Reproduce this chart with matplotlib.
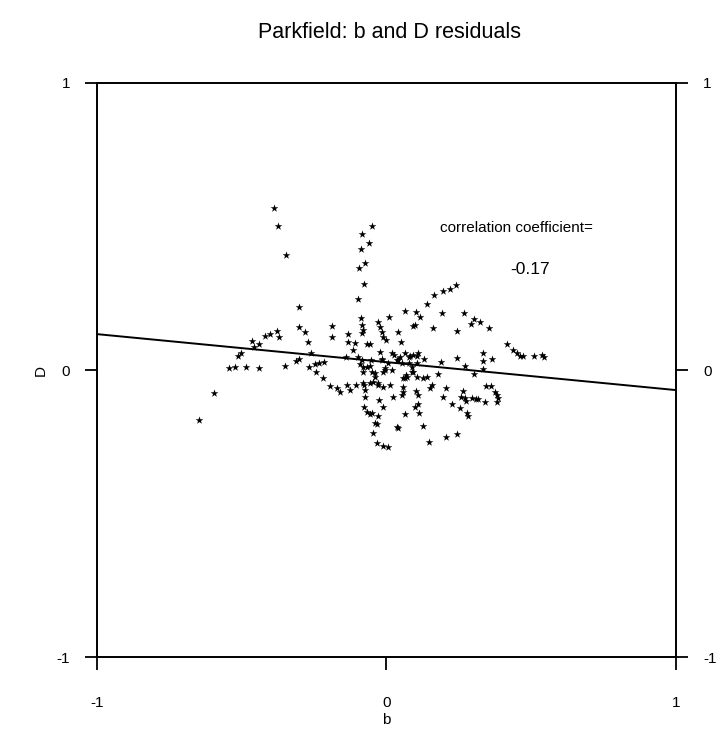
import numpy as np
import matplotlib
matplotlib.use("Agg")
import matplotlib.pyplot as plt

plt.rcParams['font.family'] = ['Liberation Sans', 'DejaVu Sans']

# residuals (b, D)
b_vals = [
    -0.389, -0.375, -0.347, -0.302, -0.302, -0.378, -0.371, -0.188, -0.282, -0.402,
    -0.420, -0.465, -0.440, -0.458, -0.271, -0.503, -0.513, -0.261, -0.544, -0.523,
    -0.485, -0.440, -0.351, -0.313, -0.302, -0.268, -0.247, -0.233, -0.216, -0.244,
    -0.219, -0.195, -0.171, -0.161, -0.136, -0.126, -0.105, -0.596, -0.648, -0.188,
    -0.133, -0.133, -0.109, -0.116, -0.140,
    # column near b = -0.08
    -0.050, -0.085, -0.060, -0.088, -0.074, -0.095, -0.078, -0.098, -0.088, -0.085,
    -0.081, -0.085, -0.067, -0.057, -0.098, -0.085, -0.092, -0.081, -0.067, -0.057,
    -0.081, -0.050, -0.040, -0.047, -0.029, -0.012, 0.012, -0.081, -0.074, -0.074,
    -0.078, -0.067, -0.057, -0.029, -0.033, -0.047, -0.033, -0.012, 0.005, -0.026,
    -0.012, 0.022, 0.036, 0.064, -0.078, -0.057,
    # middle
    -0.029, -0.022, -0.016, -0.012, -0.002, 0.009, 0.064, 0.102, 0.116, 0.098,
    0.040, 0.050, -0.022, 0.019, 0.026, -0.016, 0.005, -0.005, 0.019, 0.040,
    0.047, 0.064, 0.078, 0.092, -0.054, -0.016, -0.005, -0.012, 0.036, 0.054,
    0.078, 0.088, 0.092, 0.105, 0.126, 0.140, 0.067, 0.057, -0.040, -0.029,
    0.057, 0.054, 0.057, 0.064, 0.071, 0.088, 0.105, 0.109, 0.109, 0.098,
    0.102, 0.109, 0.112, -0.050, -0.040, 0.040, 0.126, 0.147, 0.081, 0.105,
    0.130,
    # right side
    0.240, 0.219, 0.195, 0.164, 0.140, 0.192, 0.268, 0.302, 0.292, 0.323,
    0.354, 0.092, 0.161, 0.244, 0.416, 0.437, 0.451, 0.461, 0.472, 0.509,
    0.537, 0.544, 0.244, 0.333, 0.333, 0.364, 0.188, 0.271, 0.333, 0.302,
    0.178, 0.157, 0.150, 0.206, 0.195, 0.264, 0.257, 0.271, 0.275, 0.295,
    0.309, 0.316, 0.340, 0.344, 0.361, 0.375, 0.382, 0.385, 0.382, 0.226,
    0.254, 0.278, 0.282, 0.244, 0.206,
]
d_vals = [
    0.564, 0.502, 0.401, 0.219, 0.150, 0.136, 0.115, 0.153, 0.132, 0.125,
    0.118, 0.101, 0.091, 0.080, 0.098, 0.059, 0.049, 0.059, 0.007, 0.010,
    0.010, 0.007, 0.014, 0.031, 0.038, 0.010, 0.021, 0.024, 0.028, -0.007,
    -0.028, -0.056, -0.063, -0.077, -0.052, -0.070, -0.052, -0.080, -0.174, 0.115,
    0.125, 0.098, 0.094, 0.070, 0.045,
    0.502, 0.474, 0.442, 0.422, 0.373, 0.355, 0.300, 0.247, 0.181, 0.157,
    0.139, 0.129, 0.091, 0.091, 0.045, 0.035, 0.021, 0.010, 0.010, 0.014,
    -0.007, -0.007, -0.024, -0.042, -0.052, -0.059, -0.052, -0.045, -0.070, -0.094,
    -0.129, -0.146, -0.153, -0.160, -0.188, -0.219, -0.254, -0.265, -0.268, -0.105,
    -0.129, -0.094, -0.199, -0.153, -0.052, -0.045,
    0.167, 0.150, 0.132, 0.115, 0.105, 0.185, 0.206, 0.202, 0.185, 0.157,
    0.132, 0.098, 0.063, 0.059, 0.052, 0.035, 0.024, 0.000, 0.000, 0.035,
    0.045, 0.059, 0.045, 0.052, 0.035, 0.038, 0.007, -0.007, 0.035, 0.024,
    0.024, 0.010, -0.007, -0.024, -0.028, -0.024, -0.017, -0.028, -0.010, -0.045,
    -0.059, -0.087, -0.077, -0.028, -0.024, -0.007, 0.024, 0.059, -0.087, -0.129,
    -0.073, -0.118, -0.150, -0.150, -0.185, -0.202, -0.195, -0.251, 0.049, 0.049,
    0.038,
    0.296, 0.282, 0.275, 0.261, 0.230, 0.199, 0.199, 0.178, 0.160, 0.167,
    0.146, 0.153, 0.146, 0.136, 0.091, 0.070, 0.059, 0.049, 0.049, 0.049,
    0.052, 0.045, 0.042, 0.059, 0.031, 0.038, 0.028, 0.014, 0.003, -0.014,
    -0.014, -0.052, -0.063, -0.063, -0.094, -0.073, -0.094, -0.098, -0.108, -0.098,
    -0.101, -0.101, -0.111, -0.056, -0.056, -0.077, -0.087, -0.098, -0.111, -0.118,
    -0.132, -0.150, -0.160, -0.223, -0.233,
]

# fitted line D = intercept + slope * b
line_intercept = 0.0275
line_slope = -0.0975
corr_text = "-0.17"

ticks = [-1, 0, 1]
tick_labels = ["-1", "0", "1"]

fig = plt.figure(figsize=(7.28, 7.45), dpi=100)
ax = fig.add_axes([0.1332, 0.1181, 0.7954, 0.7705])

ax.scatter(b_vals, d_vals, marker='*', s=34, color='black', linewidths=0, zorder=3)

bl = np.array([-1.0, 1.0])
ax.plot(bl, line_intercept + line_slope * bl, color='black', linewidth=1.4)

ax.set_xlim(-1, 1)
ax.set_ylim(-1, 1)
ax.set_xticks(ticks)
ax.set_xticklabels(tick_labels)
ax.set_yticks(ticks)
ax.set_yticklabels(tick_labels)
ax.tick_params(axis='x', direction='out', length=9, width=1.3, pad=19, labelsize=11)
ax.tick_params(axis='y', direction='out', length=8.5, width=1.3, pad=11, labelsize=11,
               left=True, right=True, labelleft=True, labelright=True)
for sp in ax.spines.values():
    sp.set_linewidth(1.4)

ax.set_xlabel("b", fontsize=11, labelpad=2)
ax.set_ylabel("D", fontsize=11, labelpad=6)
fig.suptitle("Parkfield: b and D residuals", fontsize=15.5, x=0.535, y=0.97)

ax.text(0.45, 0.495, "correlation coefficient=", fontsize=11, ha='center', va='center')
ax.text(0.496, 0.35, corr_text, fontsize=12.5, ha='center', va='center')

fig.savefig("out.png", dpi=100)
